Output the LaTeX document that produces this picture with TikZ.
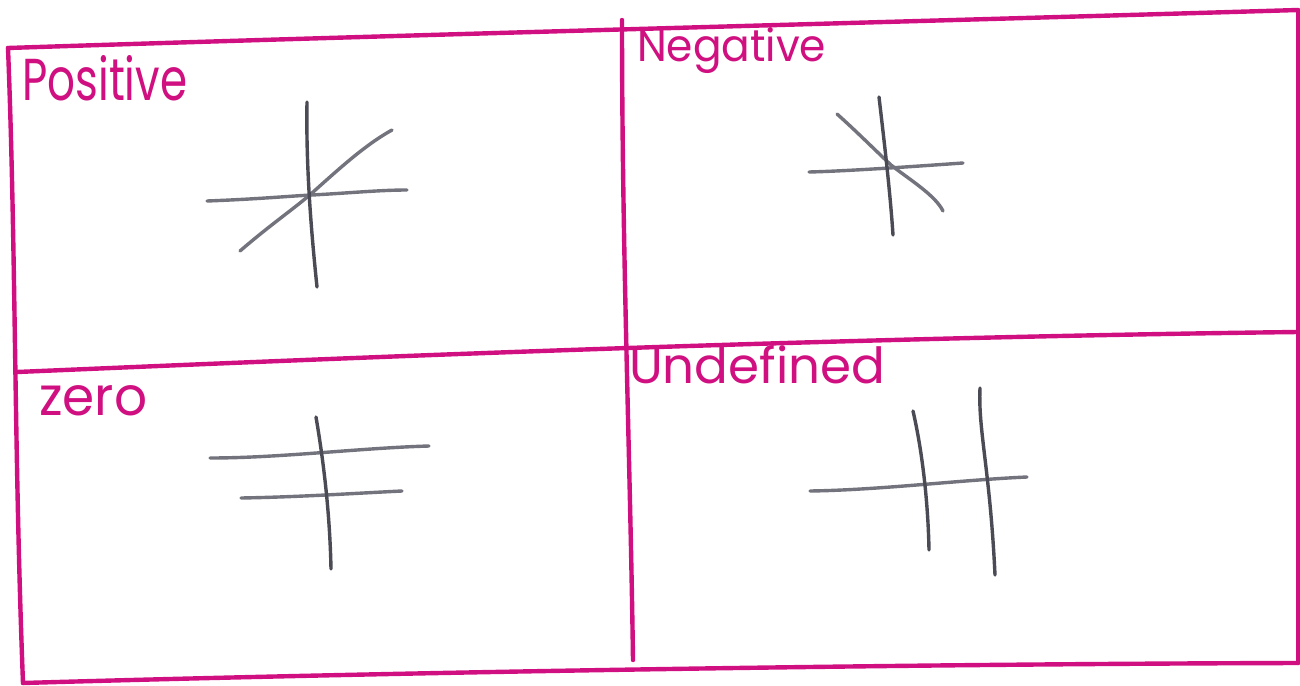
\documentclass[tikz,border=0pt]{standalone}
\usepackage{fontspec}
\setmainfont{Poppins}
\usepackage{graphicx}
\definecolor{marker}{RGB}{208,16,128}
\definecolor{pencil}{RGB}{75,75,85}
\definecolor{pencillight}{RGB}{115,115,125}
\tikzset{
  frameline/.style={draw=marker, line width=4.4pt, line cap=round, line join=round},
  axisline/.style={draw=pencil, line width=3.4pt, line cap=round},
  softline/.style={draw=pencillight, line width=3.4pt, line cap=round},
  label/.style={text=marker, inner sep=0pt, anchor=base west}
}
\begin{document}
\begin{tikzpicture}[x=1pt,y=-1pt]
\useasboundingbox (0,0) rectangle (1300,685);
\fill[white] (0,0) rectangle (1300,685);
% frame
\draw[frameline] (8,48) .. controls (400,35) and (900,22) .. (1298,10);
\draw[frameline] (8,48) .. controls (16,250) and (14,450) .. (23,683);
\draw[frameline] (23,683) .. controls (400,672) and (900,664) .. (1298,663);
\draw[frameline] (1298,10) -- (1298,663);
\draw[frameline] (622,20) .. controls (622,250) and (630,450) .. (633,660);
\draw[frameline] (17,372) .. controls (300,360) and (800,338) .. (1298,332);
% labels
\node[label] (pos) at (22,100) {\resizebox{165pt}{45pt}{Positive}};
\node[label] (neg) at (637,62) {\resizebox{189pt}{34pt}{Negative}};
\node[label] (zer) at (39,415) {\resizebox{108pt}{30pt}{zero}};
\node[label] (und) at (629,383) {\resizebox{256pt}{38pt}{Undefined}};
% positive
\draw[softline] (207,201) .. controls (260,199) and (290,196) .. (312,195) .. controls (350,193) and (380,190) .. (407,190);
\draw[softline] (240,251) .. controls (270,225) and (295,208) .. (312,193) .. controls (340,168) and (365,145) .. (392,130);
\draw[axisline] (307,102) .. controls (306,160) and (310,220) .. (317,287);
% negative
\draw[softline] (809,172) .. controls (850,171) and (920,166) .. (963,163);
\draw[softline] (837,114) .. controls (855,130) and (875,150) .. (891,165) .. controls (910,180) and (935,195) .. (943,211);
\draw[axisline] (879,97) .. controls (884,140) and (890,190) .. (893,235);
% zero
\draw[softline] (210,458) .. controls (280,458) and (360,448) .. (429,446);
\draw[softline] (241,498) .. controls (300,497) and (360,493) .. (402,491);
\draw[axisline] (316,417) .. controls (325,470) and (330,520) .. (331,569);
% undefined
\draw[softline] (810,491) .. controls (880,490) and (960,480) .. (1027,477);
\draw[axisline] (913,411) .. controls (922,450) and (928,500) .. (929,550);
\draw[axisline] (980,388) .. controls (978,430) and (990,470) .. (995,575);
\end{tikzpicture}
\end{document}
